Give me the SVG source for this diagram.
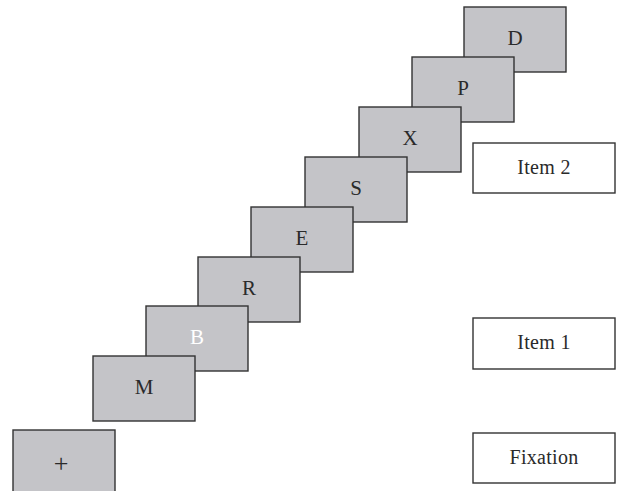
<svg xmlns="http://www.w3.org/2000/svg" width="617" height="491" viewBox="0 0 617 491">
<style>
.s{fill:#c4c4c8;stroke:#333;stroke-width:1.4}
.w{fill:#fff;stroke:#333;stroke-width:1.4}
.l{font-family:"Liberation Serif","Times New Roman",serif;font-size:21px;fill:#2a2a2a;text-anchor:middle}
.t{font-family:"Liberation Serif","Times New Roman",serif;font-size:20px;letter-spacing:0.3px;fill:#2a2a2a;text-anchor:middle}
</style>
<rect width="617" height="491" fill="#fff"/>
<g id="stim-D"><rect class="s" x="464" y="7" width="102" height="65"/><text class="l" x="515" y="45">D</text></g>
<g id="stim-P"><rect class="s" x="412" y="57" width="102" height="65"/><text class="l" x="463" y="95">P</text></g>
<g id="stim-X"><rect class="s" x="359" y="107" width="102" height="65"/><text class="l" x="410" y="145">X</text></g>
<g id="stim-S"><rect class="s" x="305" y="157" width="102" height="65"/><text class="l" x="356" y="195">S</text></g>
<g id="stim-E"><rect class="s" x="251" y="207" width="102" height="65"/><text class="l" x="302" y="245">E</text></g>
<g id="stim-R"><rect class="s" x="198" y="257" width="102" height="65"/><text class="l" x="249" y="295">R</text></g>
<g id="stim-B"><rect class="s" x="146" y="306" width="102" height="65"/><text class="l" x="197" y="344" style="fill:#fff">B</text></g>
<g id="stim-M"><rect class="s" x="93" y="356" width="102" height="65"/><text class="l" x="144" y="394">M</text></g>
<g id="stim-fix"><rect class="s" x="13" y="430" width="102" height="66"/><text class="l" x="61" y="472" style="font-size:26px">+</text></g>
<g id="label-item2"><rect class="w" x="473" y="143" width="142" height="50"/><text class="t" x="544" y="174">Item 2</text></g>
<g id="label-item1"><rect class="w" x="473" y="318" width="142" height="51"/><text class="t" x="544" y="349">Item 1</text></g>
<g id="label-fixation"><rect class="w" x="473" y="433" width="142" height="50"/><text class="t" x="544" y="464">Fixation</text></g>
<g id="connectors"/>
</svg>
